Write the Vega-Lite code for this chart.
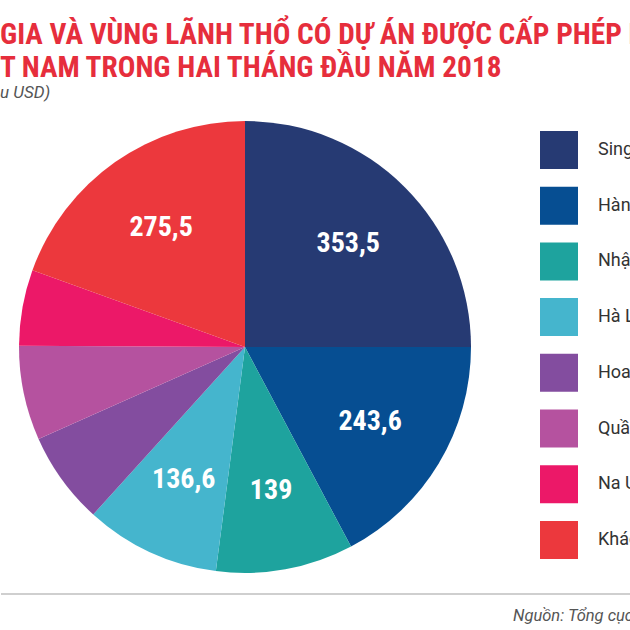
{
  "$schema": "https://vega.github.io/schema/vega-lite/v6.json",
  "background": "white",
  "padding": {"left": 0, "top": 20, "right": 0, "bottom": 0},
  "title": {
    "text": ["GIA VÀ VÙNG LÃNH THỔ CÓ DỰ ÁN ĐƯỢC CẤP PHÉP MỚI VÀO", "T NAM TRONG HAI THÁNG ĐẦU NĂM 2018"],
    "subtitle": "u USD)",
    "anchor": "start",
    "font": "Roboto Condensed, DejaVu Sans Condensed, sans-serif",
    "fontSize": 29.3,
    "fontWeight": "bold",
    "color": "#e62e3c",
    "lineHeight": 33,
    "subtitleFont": "Roboto",
    "subtitleFontStyle": "italic",
    "subtitleFontSize": 17,
    "subtitleColor": "#555555",
    "subtitlePadding": 2,
    "offset": 0
  },
  "datasets": {
    "fdi": [
      {"i": 1, "nuoc": "Singapore", "v": 353.5},
      {"i": 2, "nuoc": "Hàn Quốc", "v": 243.6},
      {"i": 3, "nuoc": "Nhật Bản", "v": 139},
      {"i": 4, "nuoc": "Hà Lan", "v": 136.6},
      {"i": 5, "nuoc": "Hoa Kỳ", "v": 93.5},
      {"i": 6, "nuoc": "Quần đảo Virgin thuộc Anh", "v": 95.5},
      {"i": 7, "nuoc": "Na Uy", "v": 76.8},
      {"i": 8, "nuoc": "Khác", "v": 275.5}
    ]
  },
  "spacing": 0,
  "vconcat": [
    {
      "width": 488,
      "height": 492,
      "data": {"name": "fdi"},
      "encoding": {
        "theta": {"field": "v", "type": "quantitative", "stack": true},
        "order": {"field": "i", "type": "quantitative"}
      },
      "layer": [
        {
          "mark": {"type": "arc", "outerRadius": 226, "stroke": null},
          "encoding": {
            "color": {
              "field": "nuoc",
              "type": "nominal",
              "scale": {
                "domain": ["Singapore", "Hàn Quốc", "Nhật Bản", "Hà Lan", "Hoa Kỳ", "Quần đảo Virgin thuộc Anh", "Na Uy", "Khác"],
                "range": ["#263a73", "#064e92", "#1ea39e", "#45b5cd", "#834d9f", "#b5529f", "#ec1868", "#ec383d"]
              },
              "legend": {
                "title": null,
                "orient": "none",
                "legendX": 539,
                "legendY": 30,
                "padding": 0,
                "symbolType": "square",
                "symbolSize": 1444,
                "symbolStrokeWidth": 0,
                "symbolOpacity": 1,
                "labelFont": "Roboto",
                "labelFontSize": 18,
                "labelColor": "#333333",
                "labelOffset": 20,
                "labelLimit": 0,
                "rowPadding": 17.7
              }
            }
          }
        },
        {
          "mark": {
            "type": "text",
            "radius": 146,
            "font": "Roboto Condensed, DejaVu Sans Condensed, sans-serif",
            "fontSize": 28,
            "fontWeight": "bold",
            "color": "white"
          },
          "encoding": {
            "text": {"field": "v", "type": "quantitative", "format": "~g"},
            "opacity": {"condition": {"test": "datum.v < 100", "value": 0}, "value": 1}
          }
        }
      ]
    },
    {
      "width": 630,
      "height": 1,
      "data": {"values": [{"phan": "chan trang"}]},
      "mark": {"type": "rule", "color": "#cfcfcf", "strokeWidth": 2},
      "encoding": {
        "x": {"value": 0},
        "x2": {"value": "width"},
        "y": {"value": 0}
      },
      "title": {
        "text": "Nguồn: Tổng cục Thống kê",
        "orient": "bottom",
        "anchor": "start",
        "dx": 513,
        "offset": 13,
        "font": "Roboto",
        "fontSize": 16.5,
        "fontStyle": "italic",
        "fontWeight": "normal",
        "color": "#555555"
      }
    }
  ],
  "config": {
    "view": {"stroke": null},
    "locale": {
      "number": {"decimal": ",", "thousands": ".", "grouping": [3], "currency": ["", ""]}
    }
  }
}
